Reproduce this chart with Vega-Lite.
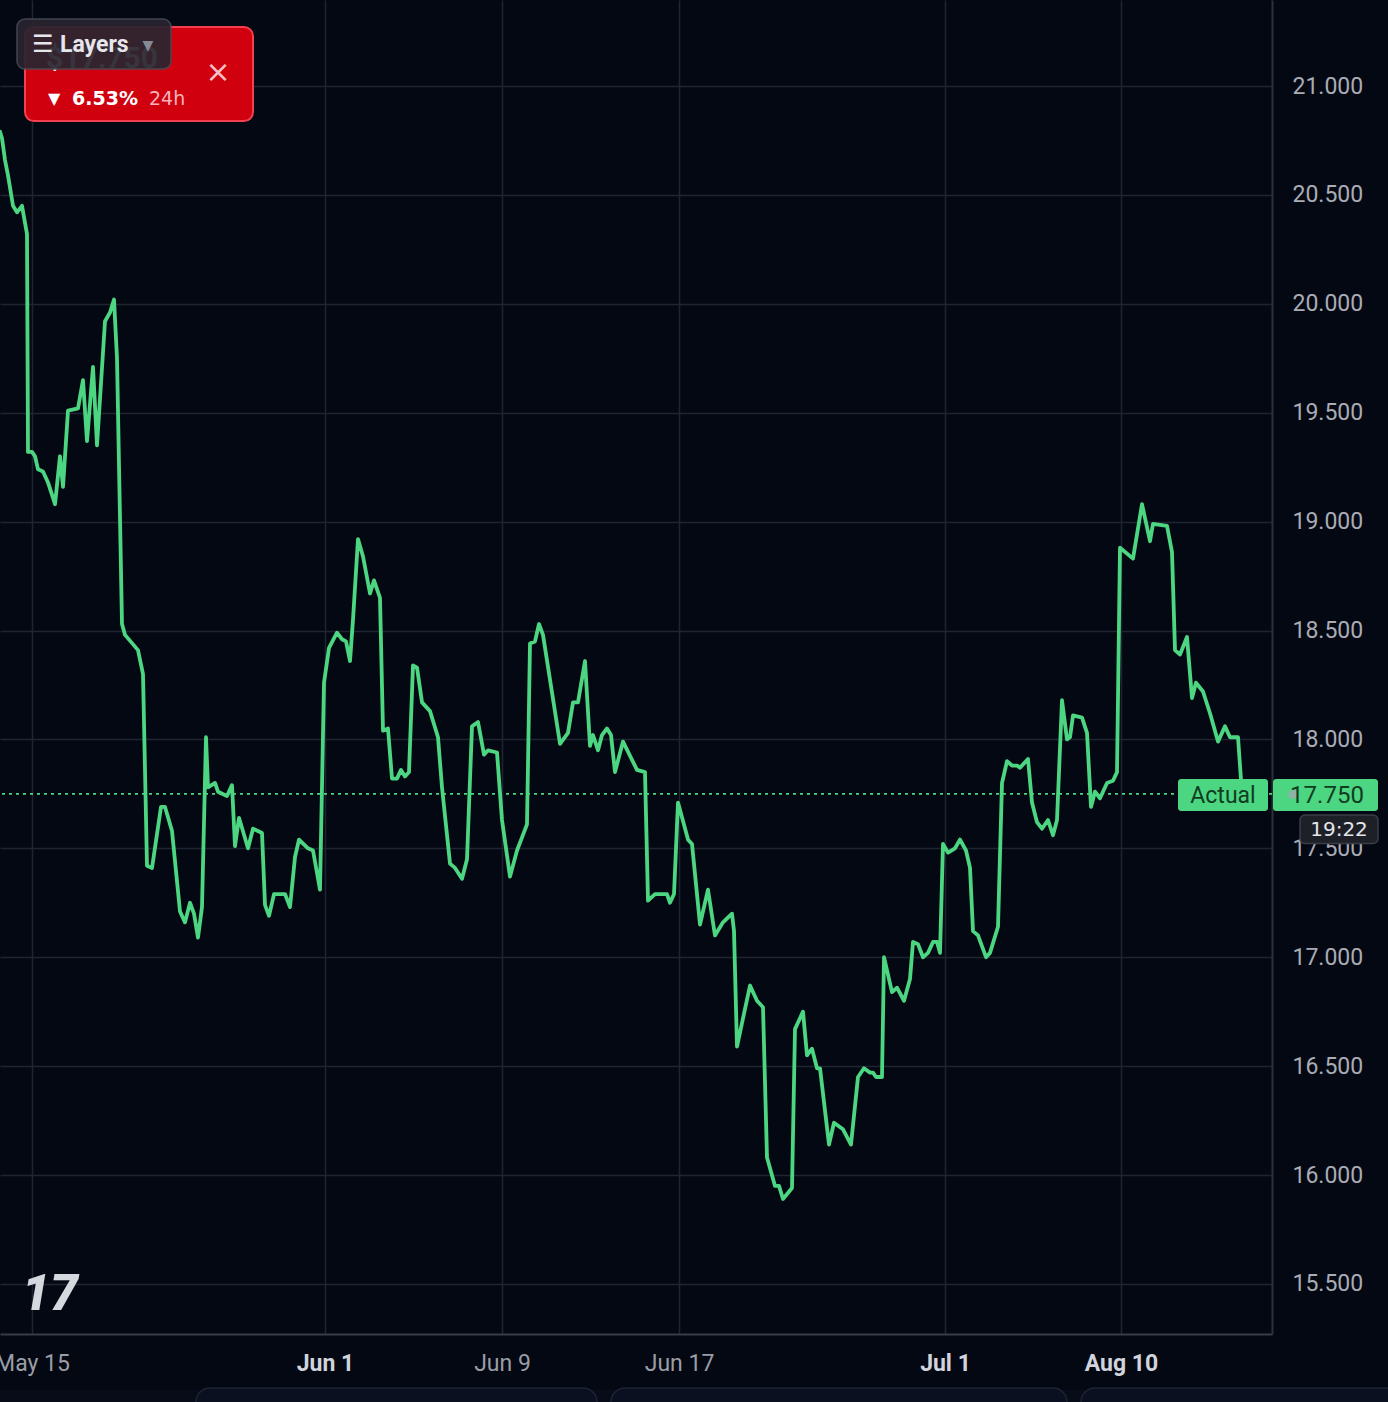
{
  "$schema": "https://vega.github.io/schema/vega-lite/v6.json",
  "width": 1272,
  "height": 1334,
  "autosize": {"type": "none"},
  "padding": {"left": 0, "top": 0, "right": 116, "bottom": 68},
  "background": "#040813",
  "config": {"view": {"stroke": null}, "font": "Roboto"},
  "datasets": {
    "price": [
      {"t":0,"v":20.79},{"t":2,"v":20.76},{"t":5,"v":20.66},{"t":8,"v":20.59},{"t":13,"v":20.45},{"t":17,"v":20.42},{"t":22,"v":20.45},{"t":27,"v":20.32},{"t":28,"v":19.32},{"t":32,"v":19.32},{"t":35,"v":19.30},{"t":38,"v":19.24},{"t":43,"v":19.23},{"t":48,"v":19.18},{"t":55,"v":19.08},{"t":60,"v":19.30},{"t":63,"v":19.16},{"t":68,"v":19.51},{"t":78,"v":19.52},{"t":83,"v":19.65},{"t":87,"v":19.37},{"t":93,"v":19.71},{"t":97,"v":19.35},{"t":105,"v":19.92},{"t":110,"v":19.96},{"t":114,"v":20.02},{"t":117,"v":19.75},{"t":122,"v":18.53},{"t":125,"v":18.48},{"t":138,"v":18.41},{"t":143,"v":18.30},{"t":147,"v":17.42},{"t":152,"v":17.41},{"t":161,"v":17.69},{"t":165,"v":17.69},{"t":172,"v":17.58},{"t":180,"v":17.21},{"t":185,"v":17.16},{"t":190,"v":17.25},{"t":194,"v":17.20},{"t":198,"v":17.09},{"t":202,"v":17.23},{"t":206,"v":18.01},{"t":208,"v":17.78},{"t":215,"v":17.80},{"t":218,"v":17.76},{"t":227,"v":17.74},{"t":232,"v":17.79},{"t":235,"v":17.51},{"t":239,"v":17.64},{"t":248,"v":17.50},{"t":253,"v":17.59},{"t":262,"v":17.57},{"t":265,"v":17.24},{"t":269,"v":17.19},{"t":274,"v":17.29},{"t":285,"v":17.29},{"t":290,"v":17.23},{"t":295,"v":17.46},{"t":299,"v":17.54},{"t":308,"v":17.50},{"t":313,"v":17.49},{"t":320,"v":17.31},{"t":324,"v":18.26},{"t":329,"v":18.42},{"t":337,"v":18.49},{"t":342,"v":18.46},{"t":346,"v":18.45},{"t":350,"v":18.36},{"t":353,"v":18.55},{"t":358,"v":18.92},{"t":363,"v":18.84},{"t":370,"v":18.67},{"t":374,"v":18.73},{"t":380,"v":18.65},{"t":383,"v":18.04},{"t":388,"v":18.05},{"t":392,"v":17.82},{"t":397,"v":17.82},{"t":401,"v":17.86},{"t":405,"v":17.83},{"t":409,"v":17.85},{"t":413,"v":18.34},{"t":417,"v":18.33},{"t":422,"v":18.17},{"t":430,"v":18.13},{"t":438,"v":18.01},{"t":442,"v":17.78},{"t":450,"v":17.43},{"t":455,"v":17.41},{"t":462,"v":17.36},{"t":467,"v":17.45},{"t":472,"v":18.06},{"t":478,"v":18.08},{"t":484,"v":17.93},{"t":488,"v":17.95},{"t":497,"v":17.94},{"t":502,"v":17.63},{"t":510,"v":17.37},{"t":517,"v":17.49},{"t":527,"v":17.61},{"t":530,"v":18.44},{"t":535,"v":18.45},{"t":539,"v":18.53},{"t":543,"v":18.48},{"t":560,"v":17.98},{"t":568,"v":18.03},{"t":573,"v":18.17},{"t":578,"v":18.17},{"t":585,"v":18.36},{"t":590,"v":17.97},{"t":593,"v":18.02},{"t":598,"v":17.95},{"t":602,"v":18.02},{"t":607,"v":18.05},{"t":611,"v":18.02},{"t":615,"v":17.85},{"t":623,"v":17.99},{"t":637,"v":17.86},{"t":645,"v":17.85},{"t":648,"v":17.26},{"t":655,"v":17.29},{"t":667,"v":17.29},{"t":670,"v":17.25},{"t":674,"v":17.29},{"t":678,"v":17.71},{"t":688,"v":17.54},{"t":692,"v":17.52},{"t":700,"v":17.15},{"t":708,"v":17.31},{"t":715,"v":17.10},{"t":723,"v":17.16},{"t":732,"v":17.20},{"t":734,"v":17.12},{"t":737,"v":16.59},{"t":750,"v":16.87},{"t":757,"v":16.80},{"t":763,"v":16.77},{"t":767,"v":16.08},{"t":775,"v":15.95},{"t":779,"v":15.95},{"t":783,"v":15.89},{"t":792,"v":15.94},{"t":795,"v":16.67},{"t":803,"v":16.75},{"t":807,"v":16.55},{"t":812,"v":16.58},{"t":817,"v":16.49},{"t":820,"v":16.49},{"t":829,"v":16.14},{"t":834,"v":16.24},{"t":843,"v":16.21},{"t":851,"v":16.14},{"t":858,"v":16.45},{"t":864,"v":16.49},{"t":870,"v":16.47},{"t":873,"v":16.47},{"t":876,"v":16.45},{"t":882,"v":16.45},{"t":884,"v":17.00},{"t":892,"v":16.84},{"t":897,"v":16.86},{"t":904,"v":16.80},{"t":910,"v":16.90},{"t":913,"v":17.07},{"t":918,"v":17.06},{"t":923,"v":17.00},{"t":928,"v":17.02},{"t":933,"v":17.07},{"t":937,"v":17.07},{"t":940,"v":17.02},{"t":943,"v":17.52},{"t":948,"v":17.48},{"t":955,"v":17.50},{"t":960,"v":17.54},{"t":966,"v":17.49},{"t":970,"v":17.41},{"t":973,"v":17.12},{"t":978,"v":17.10},{"t":986,"v":17.00},{"t":990,"v":17.02},{"t":998,"v":17.14},{"t":1002,"v":17.80},{"t":1007,"v":17.90},{"t":1012,"v":17.88},{"t":1017,"v":17.88},{"t":1020,"v":17.87},{"t":1028,"v":17.91},{"t":1032,"v":17.71},{"t":1037,"v":17.62},{"t":1042,"v":17.59},{"t":1048,"v":17.63},{"t":1053,"v":17.56},{"t":1057,"v":17.63},{"t":1062,"v":18.18},{"t":1067,"v":18.00},{"t":1070,"v":18.01},{"t":1073,"v":18.11},{"t":1082,"v":18.10},{"t":1087,"v":18.03},{"t":1091,"v":17.69},{"t":1095,"v":17.76},{"t":1100,"v":17.73},{"t":1107,"v":17.80},{"t":1113,"v":17.81},{"t":1117,"v":17.85},{"t":1120,"v":18.88},{"t":1133,"v":18.83},{"t":1142,"v":19.08},{"t":1150,"v":18.91},{"t":1153,"v":18.99},{"t":1167,"v":18.98},{"t":1172,"v":18.86},{"t":1175,"v":18.41},{"t":1180,"v":18.39},{"t":1187,"v":18.47},{"t":1192,"v":18.19},{"t":1196,"v":18.26},{"t":1203,"v":18.22},{"t":1210,"v":18.12},{"t":1218,"v":17.99},{"t":1225,"v":18.06},{"t":1230,"v":18.01},{"t":1238,"v":18.01},{"t":1242,"v":17.75}
    ]
  },
  "layer": [
    {
      "data": {"name": "price"},
      "mark": {"type": "line", "color": "#4cd681", "strokeWidth": 3.8, "strokeJoin": "round", "strokeCap": "round"},
      "encoding": {
        "x": {
          "field": "t", "type": "quantitative",
          "scale": {"domain": [0, 1272], "nice": false, "zero": false},
          "axis": {
            "orient": "bottom", "title": null,
            "values": [32, 325, 502, 679, 945, 1121],
            "labelExpr": "datum.value==32?'May 15':datum.value==325?'Jun 1':datum.value==502?'Jun 9':datum.value==679?'Jun 17':datum.value==945?'Jul 1':'Aug 10'",
            "labelFont": "Roboto", "labelFontSize": 23,
            "labelFontWeight": {"condition": {"test": "datum.value==325||datum.value==945||datum.value==1121", "value": "bold"}, "value": "normal"},
            "labelColor": {"condition": {"test": "datum.value==325||datum.value==945||datum.value==1121", "value": "#d1d4dc"}, "value": "#9a9da6"},
            "labelPadding": 18, "labelFlush": false, "labelOverlap": false, "labelBound": false,
            "ticks": false, "domain": true, "domainColor": "#383c48", "domainWidth": 2,
            "grid": true, "gridColor": "#1f2432", "gridWidth": 1.5
          }
        },
        "y": {
          "field": "v", "type": "quantitative",
          "scale": {"domain": [15.27, 21.395], "nice": false, "zero": false},
          "axis": {
            "orient": "right", "title": null,
            "values": [15.5, 16, 16.5, 17, 17.5, 18, 18.5, 19, 19.5, 20, 20.5, 21],
            "format": ".3f",
            "labelFont": "Roboto", "labelFontSize": 23, "labelColor": "#a9acb5",
            "labelPadding": 20, "labelAlign": "left",
            "ticks": false, "domain": true, "domainColor": "#2c303b", "domainWidth": 2,
            "grid": true, "gridColor": "#1f2432", "gridWidth": 1.5
          }
        }
      }
    },
    {
      "data": {"values": [{"price": 17.75}]},
      "mark": {"type": "rule", "color": "#4cd681", "strokeWidth": 1.8, "strokeDash": [3, 4]},
      "encoding": {"y": {"field": "price", "type": "quantitative"}}
    },
    {
      "data": {"values": [{"label": "Actual"}]},
      "layer": [
        {
          "mark": {"type": "rect", "color": "#4cd681", "cornerRadius": 3},
          "encoding": {
            "x": {"datum": 1178}, "x2": {"datum": 1268},
            "y": {"datum": 17.818}, "y2": {"datum": 17.671}
          }
        },
        {
          "mark": {"type": "text", "color": "#0f3d22", "fontSize": 23, "font": "Roboto", "align": "center", "baseline": "middle"},
          "encoding": {"x": {"datum": 1223}, "y": {"datum": 17.742}, "text": {"field": "label"}}
        }
      ]
    },
    {
      "data": {"values": [{"label": "17.750"}]},
      "layer": [
        {
          "mark": {"type": "rect", "color": "#4cd681", "cornerRadius": 3},
          "encoding": {
            "x": {"datum": 1273}, "x2": {"datum": 1378},
            "y": {"datum": 17.818}, "y2": {"datum": 17.671}
          }
        },
        {
          "mark": {"type": "circle", "color": "#a9a4b8", "size": 90},
          "encoding": {"x": {"datum": 1293}, "y": {"datum": 17.748}}
        },
        {
          "mark": {"type": "text", "color": "#0f3d22", "fontSize": 24, "font": "Roboto", "align": "center", "baseline": "middle"},
          "encoding": {"x": {"datum": 1327}, "y": {"datum": 17.742}, "text": {"field": "label"}}
        }
      ]
    },
    {
      "data": {"values": [{"label": "19:22"}]},
      "layer": [
        {
          "mark": {"type": "rect", "color": "#1e2028", "stroke": "#3a3d47", "strokeWidth": 1.5, "cornerRadius": 5},
          "encoding": {
            "x": {"datum": 1300}, "x2": {"datum": 1378},
            "y": {"datum": 17.653}, "y2": {"datum": 17.522}
          }
        },
        {
          "mark": {"type": "text", "color": "#e3e5ea", "fontSize": 20, "font": "DejaVu Sans", "align": "center", "baseline": "middle"},
          "encoding": {"x": {"datum": 1339}, "y": {"datum": 17.585}, "text": {"field": "label"}}
        }
      ]
    },
    {
      "data": {"values": [{"logo": "17"}]},
      "mark": {"type": "text", "color": "#d6d8df", "fontSize": 50, "font": "Roboto", "fontWeight": 900, "fontStyle": "italic", "align": "left", "baseline": "middle"},
      "encoding": {"x": {"datum": 22}, "y": {"datum": 15.45}, "text": {"field": "logo"}}
    },
    {
      "data": {"values": [{"strip": "bottom"}]},
      "layer": [
        {
          "mark": {"type": "rect", "color": "#080c18"},
          "encoding": {
            "x": {"datum": -10}, "x2": {"datum": 1400},
            "y": {"datum": 15.013}, "y2": {"datum": 14.9}
          }
        },
        {
          "mark": {"type": "rect", "color": "#0b1020", "stroke": "#1d2333", "strokeWidth": 1.5, "cornerRadius": 14},
          "encoding": {
            "x": {"datum": 196}, "x2": {"datum": 597},
            "y": {"datum": 15.022}, "y2": {"datum": 14.85}
          }
        },
        {
          "mark": {"type": "rect", "color": "#0b1020", "stroke": "#1d2333", "strokeWidth": 1.5, "cornerRadius": 14},
          "encoding": {
            "x": {"datum": 611}, "x2": {"datum": 1067},
            "y": {"datum": 15.022}, "y2": {"datum": 14.85}
          }
        },
        {
          "mark": {"type": "rect", "color": "#0b1020", "stroke": "#1d2333", "strokeWidth": 1.5, "cornerRadius": 14},
          "encoding": {
            "x": {"datum": 1081}, "x2": {"datum": 1420},
            "y": {"datum": 15.022}, "y2": {"datum": 14.85}
          }
        }
      ]
    },
    {
      "data": {"values": [{"arrowdown": "▼", "pct": "6.53%", "per": "24h", "close": "×", "price": "$17.750", "layers": "Layers", "menu": "☰", "arrow": "▼"}]},
      "layer": [
        {
          "mark": {"type": "rect", "color": "#d0000f", "stroke": "#f2404f", "strokeWidth": 2, "cornerRadius": 9},
          "encoding": {
            "x": {"datum": 25}, "x2": {"datum": 253},
            "y": {"datum": 21.271}, "y2": {"datum": 20.839}
          }
        },
        {
          "mark": {"type": "text", "color": "#ffffff", "fontSize": 16, "font": "DejaVu Sans", "align": "left", "baseline": "middle"},
          "encoding": {"x": {"datum": 48}, "y": {"datum": 20.94}, "text": {"field": "arrowdown"}}
        },
        {
          "mark": {"type": "text", "color": "#ffffff", "fontSize": 19, "font": "DejaVu Sans", "fontWeight": "bold", "align": "left", "baseline": "middle"},
          "encoding": {"x": {"datum": 72}, "y": {"datum": 20.94}, "text": {"field": "pct"}}
        },
        {
          "mark": {"type": "text", "color": "#f6b3ba", "fontSize": 19, "font": "DejaVu Sans", "align": "left", "baseline": "middle"},
          "encoding": {"x": {"datum": 149}, "y": {"datum": 20.94}, "text": {"field": "per"}}
        },
        {
          "mark": {"type": "text", "color": "#f6c0c6", "fontSize": 30, "font": "DejaVu Sans", "align": "center", "baseline": "middle"},
          "encoding": {"x": {"datum": 218}, "y": {"datum": 21.06}, "text": {"field": "close"}}
        },
        {
          "mark": {"type": "text", "color": "#ffffff", "fontSize": 30, "font": "Roboto", "fontWeight": "bold", "align": "left", "baseline": "middle"},
          "encoding": {"x": {"datum": 46}, "y": {"datum": 21.125}, "text": {"field": "price"}}
        },
        {
          "mark": {"type": "rect", "color": "#29252f", "opacity": 0.93, "stroke": "#474a56", "strokeWidth": 1.5, "cornerRadius": 8},
          "encoding": {
            "x": {"datum": 17}, "x2": {"datum": 171},
            "y": {"datum": 21.308}, "y2": {"datum": 21.078}
          }
        },
        {
          "mark": {"type": "text", "color": "#e6e6ec", "fontSize": 24, "font": "DejaVu Sans", "fontWeight": "bold", "align": "left", "baseline": "middle"},
          "encoding": {"x": {"datum": 32}, "y": {"datum": 21.19}, "text": {"field": "menu"}}
        },
        {
          "mark": {"type": "text", "color": "#e6e6ec", "fontSize": 23, "font": "Roboto", "fontWeight": "bold", "align": "left", "baseline": "middle"},
          "encoding": {"x": {"datum": 60}, "y": {"datum": 21.19}, "text": {"field": "layers"}}
        },
        {
          "mark": {"type": "text", "color": "#858a97", "fontSize": 14, "font": "DejaVu Sans", "align": "center", "baseline": "middle"},
          "encoding": {"x": {"datum": 148}, "y": {"datum": 21.185}, "text": {"field": "arrow"}}
        }
      ]
    }
  ]
}
